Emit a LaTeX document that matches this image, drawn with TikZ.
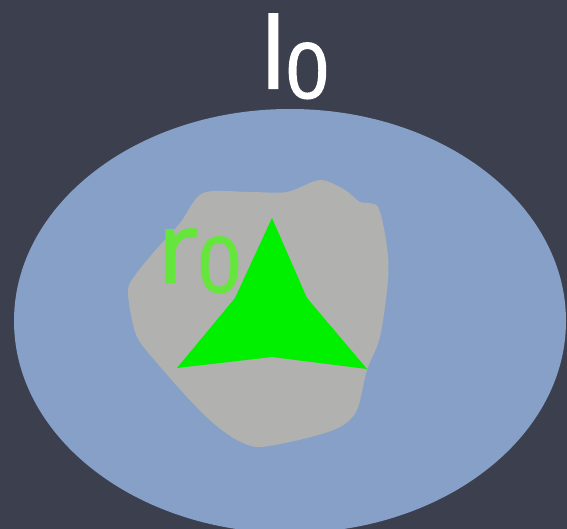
\documentclass[tikz,border=0pt]{standalone}
\usepackage{fontspec}
\setmainfont{Open Sans}
\newfontfamily\labelfont[FakeBold=2.2]{Open Sans}
\definecolor{bgslate}{RGB}{60,64,78}
\definecolor{ellblue}{RGB}{134,160,200}
\definecolor{blobgray}{RGB}{177,177,175}
\definecolor{trigreen}{RGB}{0,240,0}
\definecolor{txtgreen}{RGB}{100,230,60}
\begin{document}
\begin{tikzpicture}[x=1pt,y=-1pt,
  bigtext/.style={inner sep=0pt,anchor=base west,font=\labelfont\fontsize{97}{100}\selectfont}]
\useasboundingbox (0,0) rectangle (567,529);
\fill[bgslate] (0,0) rectangle (567,529);
\begin{scope}
\clip (0,0) rectangle (567,529);
\fill[ellblue] (290,321) ellipse [x radius=276, y radius=212];
\end{scope}
\fill[blobgray] plot[smooth cycle, tension=0.5] coordinates {
  (203,193) (250,192) (287,192) (320,180) (345,190) (360,202) (378,207)
  (387,247) (388,280) (380,337) (367,370) (357,410) (340,427) (307,438)
  (260,447) (237,440) (213,423) (187,397) (157,363) (137,337) (129,303)
  (130,283) (153,253) (180,223)};
\fill[trigreen] (272,218) -- (307,298) -- (367,369) -- (272,357)
  -- (177,368) -- (235,298) -- cycle;
\node[bigtext,text=white] (l0) at (261,88) {l\raisebox{-10pt}{\fontsize{76}{78}\selectfont 0}};
\node[bigtext,text=txtgreen] (r0) at (158,282) {r\raisebox{-10pt}{\fontsize{76}{78}\selectfont 0}};
\end{tikzpicture}
\end{document}
